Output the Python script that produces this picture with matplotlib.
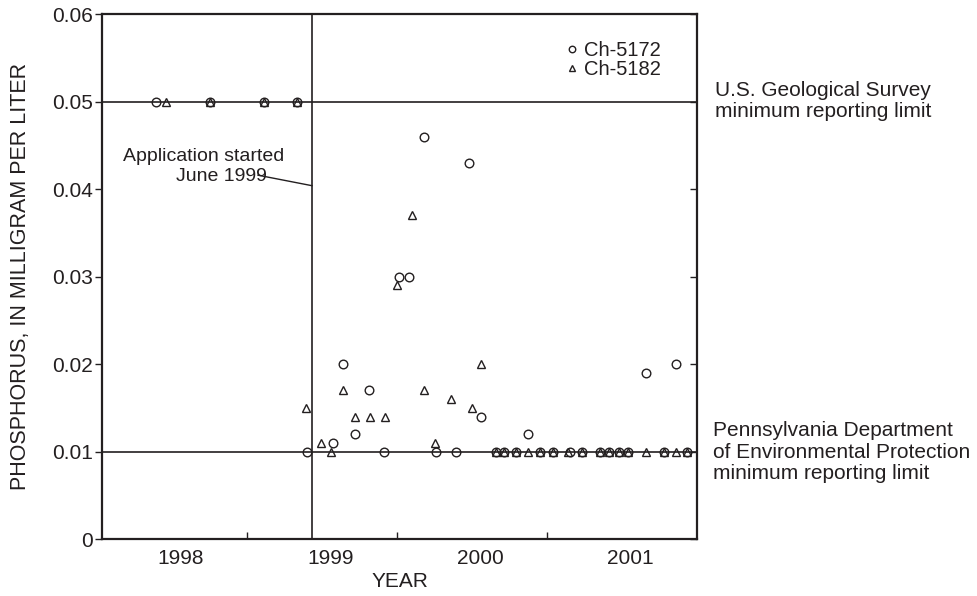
import matplotlib
matplotlib.use("Agg")
import matplotlib.pyplot as plt

plt.rcParams['font.family'] = ['Liberation Sans', 'DejaVu Sans']

INK = '#231f20'

# Ch-5172 (circles)
ch5172_year = [1998.39, 1998.75, 1999.11, 1999.33, 1999.40, 1999.57, 1999.64, 1999.72,
               1999.81, 1999.91, 2000.01, 2000.08, 2000.18, 2000.26, 2000.39, 2000.48,
               2000.56, 2000.66, 2000.71, 2000.79, 2000.87, 2000.95, 2001.04, 2001.15,
               2001.23, 2001.35, 2001.41, 2001.48, 2001.54, 2001.66, 2001.78, 2001.86,
               2001.93]
ch5172_val = [0.050, 0.050, 0.050, 0.050, 0.010, 0.011, 0.020, 0.012,
              0.017, 0.010, 0.030, 0.030, 0.046, 0.010, 0.010, 0.043,
              0.014, 0.010, 0.010, 0.010, 0.012, 0.010, 0.010, 0.010,
              0.010, 0.010, 0.010, 0.010, 0.010, 0.019, 0.010, 0.020,
              0.010]

# Ch-5182 (triangles)
ch5182_year = [1998.46, 1998.75, 1999.11, 1999.33, 1999.39, 1999.49, 1999.56, 1999.64,
               1999.72, 1999.82, 1999.92, 2000.00, 2000.10, 2000.18, 2000.25, 2000.36,
               2000.50, 2000.56, 2000.66, 2000.71, 2000.79, 2000.87, 2000.95, 2001.04,
               2001.14, 2001.23, 2001.35, 2001.41, 2001.48, 2001.54, 2001.66, 2001.78,
               2001.86, 2001.93]
ch5182_val = [0.050, 0.050, 0.050, 0.050, 0.015, 0.011, 0.010, 0.017,
              0.014, 0.014, 0.014, 0.029, 0.037, 0.017, 0.011, 0.016,
              0.015, 0.020, 0.010, 0.010, 0.010, 0.010, 0.010, 0.010,
              0.010, 0.010, 0.010, 0.010, 0.010, 0.010, 0.010, 0.010,
              0.010, 0.010]

year_labels = ['1998', '1999', '2000', '2001']
year_label_pos = [1998.555, 1999.555, 2000.555, 2001.555]
year_ticks = [1999, 2000, 2001]
y_ticks = [0, 0.01, 0.02, 0.03, 0.04, 0.05, 0.06]
y_ticklabels = ['0', '0.01', '0.02', '0.03', '0.04', '0.05', '0.06']

usgs_limit = 0.05
pa_limit = 0.01
application_start = 1999.433

fig = plt.figure(figsize=(9.78, 5.96), dpi=100)
ax = fig.add_axes([0.1046, 0.0953, 0.6081, 0.8809])

FS = 15

ax.axhline(usgs_limit, color=INK, lw=1.2, zorder=1)
ax.axhline(pa_limit, color=INK, lw=1.2, zorder=1)
ax.axvline(application_start, color=INK, lw=1.2, zorder=1)

ax.plot(ch5172_year, ch5172_val, linestyle='none', marker='o', ms=6.2,
        mfc='none', mec=INK, mew=1.0, zorder=3, label='Ch-5172')
ax.plot(ch5182_year, ch5182_val, linestyle='none', marker='^', ms=5.2,
        mfc='none', mec=INK, mew=1.0, zorder=3, label='Ch-5182')

ax.set_xlim(1998.035, 2002.0)
ax.set_ylim(0, 0.06)

ax.set_xticks(year_ticks)
ax.set_xticklabels([])
ax.set_xticks(year_label_pos, minor=True)
ax.set_xticklabels(year_labels, minor=True)
ax.tick_params(axis='x', which='major', direction='in', length=5, width=1.0, color=INK)
ax.tick_params(axis='x', which='minor', length=0, pad=7, labelsize=FS, labelcolor=INK)

ax.set_yticks(y_ticks)
ax.set_yticklabels(y_ticklabels)
ax.tick_params(axis='y', direction='out', length=5, width=1.0, pad=2,
               labelsize=FS, labelcolor=INK, color=INK)

sec = ax.secondary_yaxis('right')
sec.set_yticks(y_ticks)
sec.set_yticklabels([])
sec.tick_params(direction='in', length=5, width=1.0, color=INK)
sec.spines['right'].set_visible(False)

for s in ax.spines.values():
    s.set_linewidth(1.6)
    s.set_color(INK)

ax.set_xlabel('YEAR', fontsize=FS, color=INK, labelpad=3)
ax.set_ylabel('PHOSPHORUS, IN MILLIGRAM PER LITER', fontsize=15.5, color=INK)
ax.yaxis.set_label_coords(-0.12, 0.5)

leg = ax.legend(loc='upper left', bbox_to_anchor=(0.752, 0.975), frameon=False,
                fontsize=14.5, handlelength=0.8, handletextpad=0.2, labelspacing=0.0,
                borderpad=0.2, markerscale=0.75)
for t in leg.get_texts():
    t.set_color(INK)

# Application annotation
ax.text(0.1702, 0.728, 'Application started', transform=ax.transAxes,
        ha='center', va='center', fontsize=14, color=INK)
ax.text(0.1996, 0.691, 'June 1999', transform=ax.transAxes,
        ha='center', va='center', fontsize=14, color=INK)
ax.plot([1998.035 + (258 - 102.3) / 150.0, application_start], [0.0416, 0.0404],
        color=INK, lw=1.0, zorder=2)

# Right-side annotations (figure coordinates)
fig.text(823 / 978, 1 - 101 / 596, 'U.S. Geological Survey\nminimum reporting limit',
         ha='center', va='center', multialignment='center', fontsize=FS, color=INK,
         linespacing=1.15)
fig.text(713 / 978, 1 - 452 / 596,
         'Pennsylvania Department\nof Environmental Protection\nminimum reporting limit',
         ha='left', va='center', multialignment='left', fontsize=FS, color=INK,
         linespacing=1.15)

fig.savefig('out.png', dpi=100)
